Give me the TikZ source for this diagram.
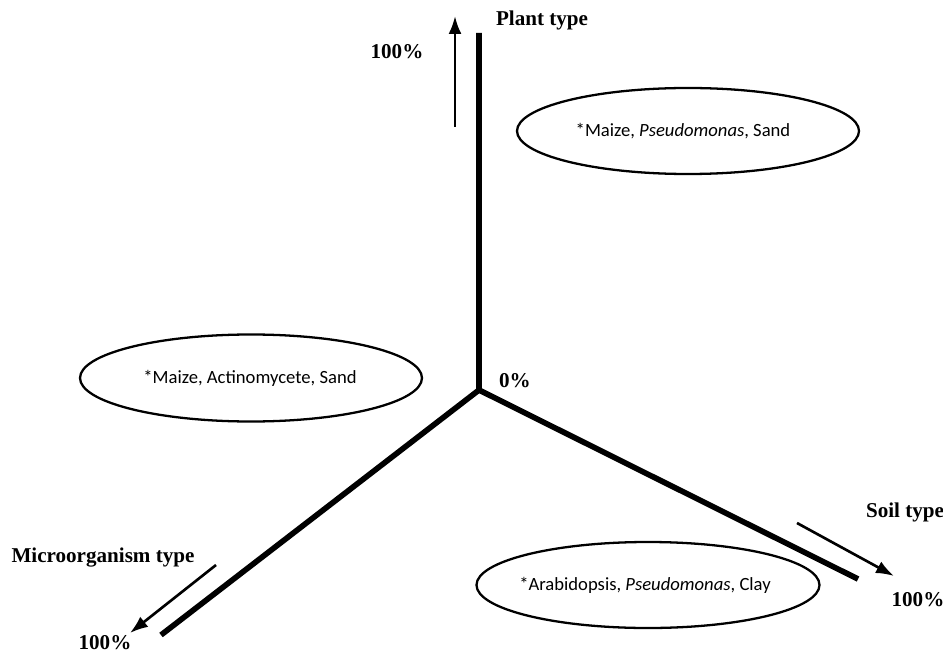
\documentclass[tikz,border=0pt]{standalone}
\usepackage{fontspec}
\setmainfont{Liberation Serif}
\newfontfamily\carlito{Carlito}
\usepackage{tikz}
\usetikzlibrary{arrows.meta,positioning}

\tikzset{
  axis/.style={line width=3.2pt},
  dir/.style={line width=1.5pt, -{Latex[length=3.6mm,width=2.6mm]}},
  lbl/.style={font=\bfseries\fontsize{12}{14}\selectfont, inner sep=1pt},
  combo/.style={font=\carlito\fontsize{10.6}{13}\selectfont, inner sep=0pt},
  oval/.style={line width=1.3pt}
}

\begin{document}
\begin{tikzpicture}
      \useasboundingbox (0,0) rectangle (18.86,13.1);
      % Define nodes
      \coordinate (o) at (9.58,5.3);
      \coordinate (plant) at (9.58,12.44);
      \coordinate (soil) at (17.16,1.52);
      \coordinate (micro) at (3.22,0.4);
      \coordinate (plantA) at (9.1,10.56);
      \coordinate (plantB) at (9.1,12.78);
      \coordinate (soilA) at (15.94,2.64);
      \coordinate (soilB) at (17.88,1.58);
      \coordinate (microA) at (4.32,1.8);
      \coordinate (microB) at (2.6,0.44);
      \node[lbl] (zero) at (10.3,5.48) {0\%};
      \node[lbl] (plantlbl) at (10.84,12.7) {Plant type};
      \node[lbl] (plantmax) at (7.94,12.06) {100\%};
      \node[lbl] (soillbl) at (18.1,2.86) {Soil type};
      \node[lbl] (soilmax) at (18.36,1.1) {100\%};
      \node[lbl] (microlbl) at (2.06,1.94) {Microorganism type};
      \node[lbl] (micromax) at (2.1,0.24) {100\%};
      \node[combo] (mps) at (13.66,10.48) {*Maize, \textit{Pseudomonas}, Sand};
      \node[combo] (mas) at (5.0,5.54) {*Maize, Actinomycete, Sand};
      \node[combo] (apc) at (12.9,1.4) {*Arabidopsis, \textit{Pseudomonas}, Clay};
      % Ovals round the combinations
      \draw[oval] (13.76,10.48) ellipse [x radius=3.42cm, y radius=0.86cm];
      \draw[oval] (5.02,5.54) ellipse [x radius=3.42cm, y radius=0.87cm];
      \draw[oval] (12.96,1.4) ellipse [x radius=3.43cm, y radius=0.86cm];
      % Axes
      \draw[axis] (plant) -- (o) -- (soil);
      \draw[axis] (o) -- (micro);
      % Directions
      \draw[dir] (plantA) -- (plantB);
      \draw[dir] (soilA) -- (soilB);
      \draw[dir] (microA) -- (microB);
\end{tikzpicture}
\end{document}
